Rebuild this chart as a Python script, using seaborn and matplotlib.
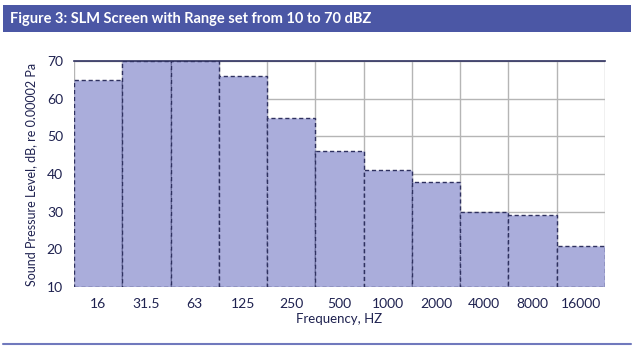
import matplotlib.pyplot as plt
from matplotlib.patches import Rectangle
from matplotlib.lines import Line2D
import pandas as pd
import seaborn as sns

FREQS = ["16", "31.5", "63", "125", "250", "500", "1000", "2000", "4000", "8000", "16000"]
LEVELS = [65, 70, 70, 66, 55, 46, 41, 38, 30, 29, 21]
Y_TICKS = [10, 20, 30, 40, 50, 60, 70]

TITLE = "Figure 3: SLM Screen with Range set from 10 to 70 dBZ"
BAND = "#4b57a5"
FACE = "#aaaddb"
EDGE = "#2f3160"
TEXT = "#1f2250"


def main() -> None:
    sns.set_theme(style="white")
    plt.rcParams["font.family"] = ["Lato", "DejaVu Sans"]

    df = pd.DataFrame({"freq": FREQS, "level": LEVELS})

    fig = plt.figure(figsize=(6.36, 3.51), dpi=100)
    ax = fig.add_axes([74 / 636, 1 - 287 / 351, (605 - 74) / 636, (287 - 61) / 351])

    # grid first so the bars sit on top of it
    for y in Y_TICKS:
        ax.axhline(y, color="#b5b5b5", linewidth=1.0, zorder=0)
    for i in range(len(FREQS) + 1):
        ax.axvline(i - 0.5, color="#b5b5b5", linewidth=1.0, zorder=0)

    sns.barplot(data=df, x="freq", y="level", order=FREQS, color=FACE,
                saturation=1, width=1.0, ax=ax, zorder=2)
    for bar in ax.patches:
        bar.set_edgecolor(EDGE)
        bar.set_linestyle((0, (3, 2)))
        bar.set_linewidth(1.0)
        bar.set_height(bar.get_height() - 10)
        bar.set_y(10)

    ax.set_ylim(10, 70)
    ax.set_xlim(-0.5, len(FREQS) - 0.5)
    ax.set_yticks(Y_TICKS)
    ax.tick_params(axis="both", length=0, labelsize=10, labelcolor=TEXT, pad=8)
    ax.set_xlabel("Frequency, HZ", fontsize=9.5, color=TEXT, labelpad=2)
    ax.set_ylabel("Sound Pressure Level, dB, re 0.00002 Pa", fontsize=9,
                  color=TEXT, labelpad=7)

    for side in ("left", "bottom", "right"):
        ax.spines[side].set_visible(False)
    ax.spines["top"].set_color(EDGE)
    ax.spines["top"].set_linewidth(1.2)

    # header band with title
    fig.patches.append(Rectangle((3 / 636, 1 - 32 / 351), 628 / 636, 27 / 351,
                                 transform=fig.transFigure, facecolor=BAND,
                                 edgecolor="none", zorder=0))
    fig.text(10 / 636, 1 - 18.5 / 351, TITLE, color="white", fontsize=10.5,
             fontweight="bold", va="center", ha="left")

    # rule at the bottom
    fig.lines.append(Line2D([3 / 636, 631 / 636], [1 - 344 / 351] * 2,
                            transform=fig.transFigure, color="#7079bd",
                            linewidth=1.5))

    fig.savefig("out.png", dpi=100)
    plt.close(fig)


if __name__ == "__main__":
    main()
